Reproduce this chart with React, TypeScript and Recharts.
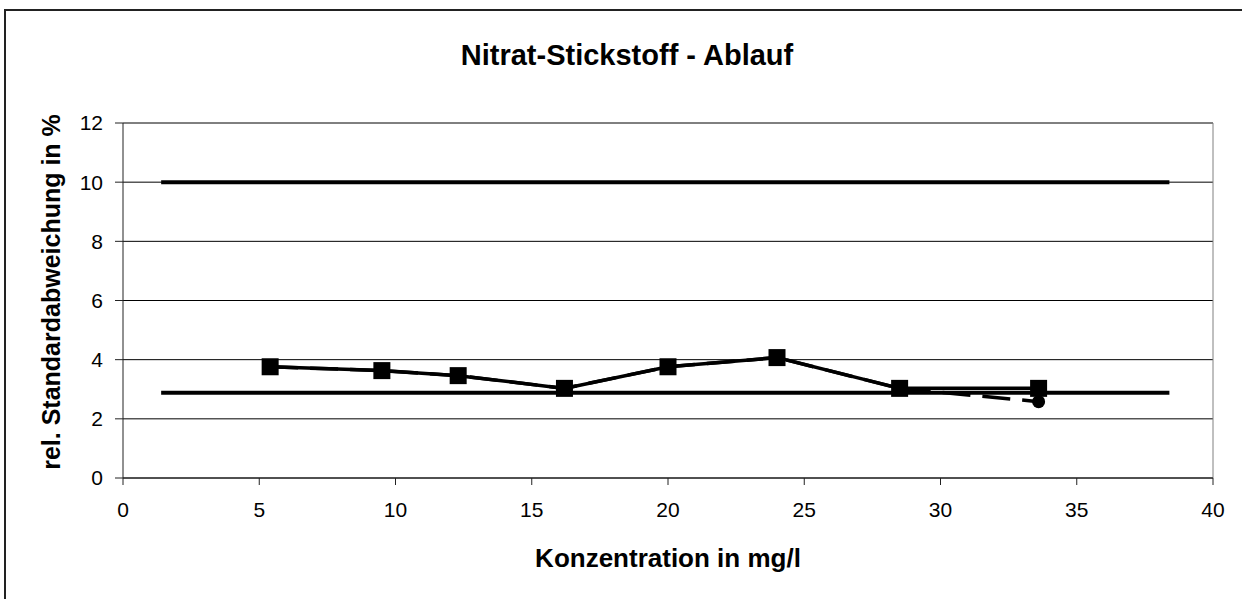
import { LineChart, Line, XAxis, YAxis, CartesianGrid, ReferenceLine } from "recharts";

// values
const concentrations = [5.4, 9.5, 12.3, 16.2, 20.0, 24.0, 28.5, 33.6];
const rsdSeriesA = [3.76, 3.63, 3.46, 3.03, 3.76, 4.07, 3.03, 3.03];
const rsdSeriesB = [3.76, 3.63, 3.46, 3.03, 3.76, 4.07, 3.03, 2.58];
const limitRange = [1.4, 38.4];
const upperLimit = 10;
const lowerLimit = 2.88;
const xTicks = [0, 5, 10, 15, 20, 25, 30, 35, 40];
const yTicks = [0, 2, 4, 6, 8, 10, 12];

const seriesA = concentrations.map((x, i) => ({ x, y: rsdSeriesA[i] }));
const seriesB = concentrations.map((x, i) => ({ x, y: rsdSeriesB[i] }));
const upperLine = limitRange.map((x) => ({ x, y: upperLimit }));
const lowerLine = limitRange.map((x) => ({ x, y: lowerLimit }));

const font = "'Liberation Sans', Arial, sans-serif";
const tickStyle = { fontFamily: font, fontSize: 21, fill: "#000" };

const SquareDot = (props: any) => {
  const { cx, cy, index } = props;
  if (cx == null || cy == null) return null;
  return <rect key={`sq-${index}`} x={cx - 8.5} y={cy - 8.5} width={17} height={17} fill="#000" />;
};

const CircleDot = (props: any) => {
  const { cx, cy, index } = props;
  if (cx == null || cy == null) return null;
  return <circle key={`ci-${index}`} cx={cx} cy={cy} r={6.5} fill="#000" />;
};

export default function App() {
  return (
    <div
      style={{
        position: "absolute",
        left: 0,
        top: 0,
        width: 1242,
        height: 599,
        overflow: "hidden",
        background: "#fff",
        fontFamily: font,
      }}
    >
      {/* chart frame, cut off at right and bottom */}
      <div
        style={{
          position: "absolute",
          left: 4,
          top: 9,
          width: 1300,
          height: 700,
          borderLeft: "2px solid #222",
          borderTop: "2px solid #222",
        }}
      />
      <div
        style={{
          position: "absolute",
          left: 0,
          top: 41,
          width: 1254,
          textAlign: "center",
          fontSize: 29,
          lineHeight: "29px",
          fontWeight: "bold",
          color: "#000",
        }}
      >
        Nitrat-Stickstoff - Ablauf
      </div>
      <LineChart
        width={1242}
        height={599}
        margin={{ top: 123, right: 29, bottom: 0, left: 0 }}
        style={{ position: "absolute", left: 0, top: 0 }}
      >
        <CartesianGrid vertical={false} stroke="#000" strokeWidth={1} />
        <XAxis
          type="number"
          dataKey="x"
          domain={[0, 40]}
          ticks={xTicks}
          allowDataOverflow
          height={121}
          tickSize={7}
          tickMargin={17}
          tick={tickStyle}
          stroke="#222"
          tickLine={{ stroke: "#222" }}
        />
        <YAxis
          type="number"
          dataKey="y"
          domain={[0, 12]}
          ticks={yTicks}
          allowDataOverflow
          width={123}
          tickSize={8}
          tickMargin={12}
          tick={tickStyle}
          stroke="#222"
          tickLine={{ stroke: "#222" }}
        />
        <ReferenceLine y={12} stroke="#808080" strokeWidth={1} />
        <ReferenceLine x={40} stroke="#808080" strokeWidth={1} />
        <Line data={upperLine} dataKey="y" stroke="#000" strokeWidth={4} dot={false} isAnimationActive={false} />
        <Line data={lowerLine} dataKey="y" stroke="#000" strokeWidth={4} dot={false} isAnimationActive={false} />
        <Line
          data={seriesB}
          dataKey="y"
          stroke="#000"
          strokeWidth={3.5}
          strokeDasharray="28 12"
          dot={CircleDot}
          isAnimationActive={false}
        />
        <Line data={seriesA} dataKey="y" stroke="#000" strokeWidth={3.5} dot={SquareDot} isAnimationActive={false} />
      </LineChart>
      <div
        style={{
          position: "absolute",
          left: 123,
          top: 545,
          width: 1090,
          textAlign: "center",
          fontSize: 26,
          lineHeight: "26px",
          fontWeight: "bold",
          color: "#000",
        }}
      >
        Konzentration in mg/l
      </div>
      <div
        style={{
          position: "absolute",
          left: 50.5 - 250,
          top: 292 - 13,
          width: 500,
          height: 26,
          textAlign: "center",
          fontSize: 25,
          lineHeight: "26px",
          fontWeight: "bold",
          color: "#000",
          transform: "rotate(-90deg)",
          whiteSpace: "nowrap",
        }}
      >
        rel. Standardabweichung in %
      </div>
    </div>
  );
}
